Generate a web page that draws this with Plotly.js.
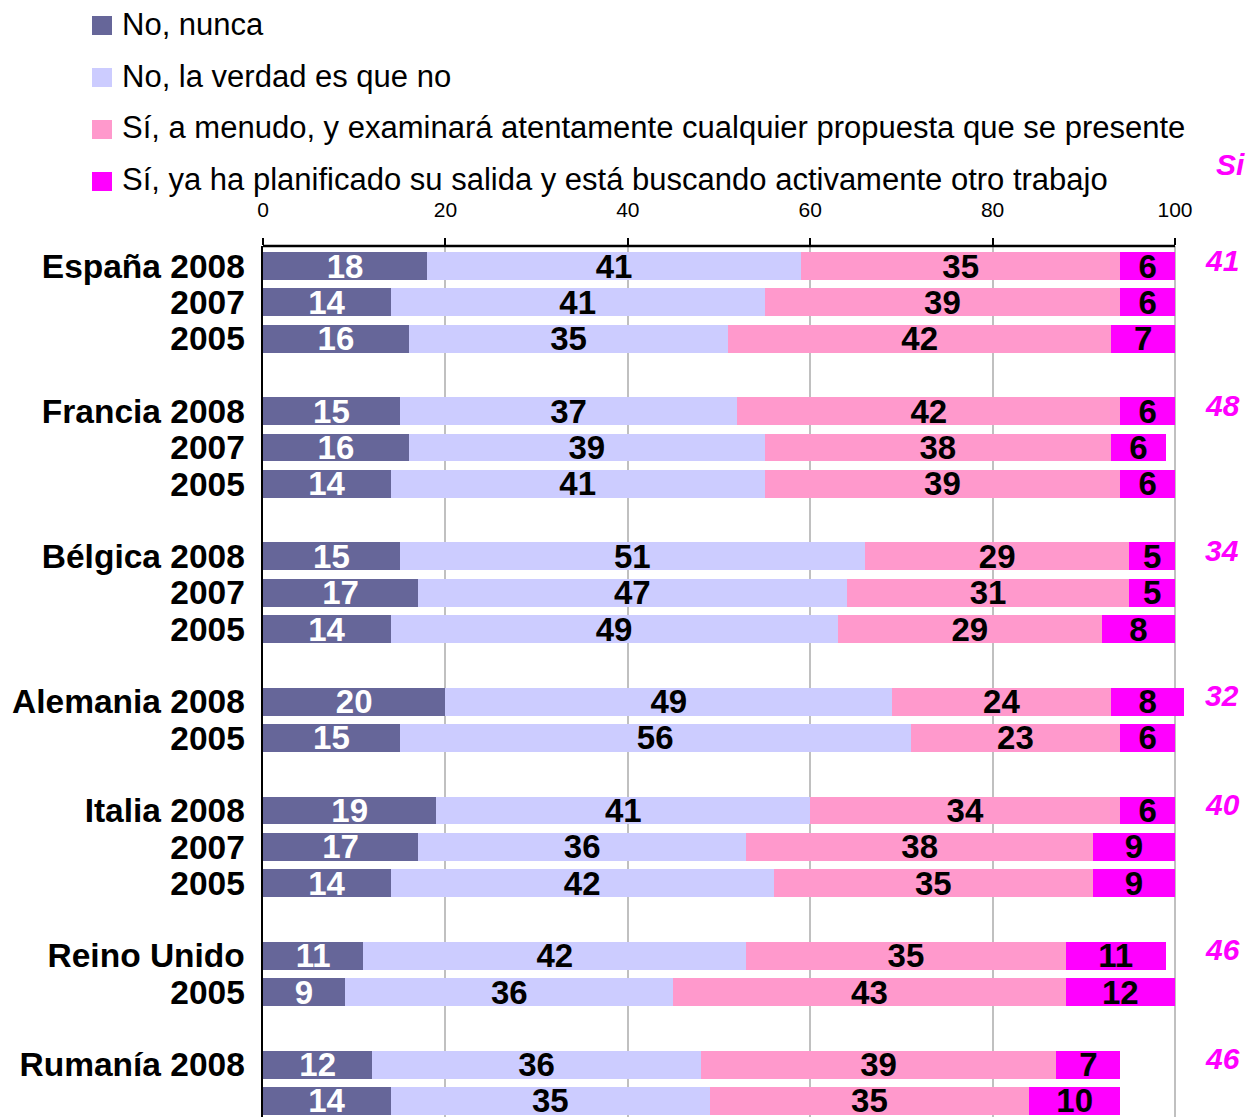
<!DOCTYPE html>
<html>
<head>
<meta charset="utf-8">
<script src="https://cdn.plot.ly/plotly-3.0.1.min.js"></script>
<style>html,body{margin:0;padding:0;background:#fff;overflow:hidden}</style>
</head>
<body>
<div id="chart" style="width:1249px;height:1117px"></div>
<script>
// ---- data ----
const countries = ["España", "Francia", "Bélgica", "Alemania", "Italia", "Reino Unido", "Rumanía"];
const rowLabels = [
  ["España 2008", "2007", "2005"],
  ["Francia 2008", "2007", "2005"],
  ["Bélgica 2008", "2007", "2005"],
  ["Alemania 2008", "2005"],
  ["Italia 2008", "2007", "2005"],
  ["Reino Unido", "2005"],
  ["Rumanía 2008", "2007"]
];
const seriesNames = ["No, nunca", "No, la verdad es que no", "Sí, a menudo, y examinará atentamente cualquier propuesta que se presente", "Sí, ya ha planificado su salida y está buscando activamente otro trabajo"];
const seriesColors = ["#666699", "#CCCCFF", "#FF99CC", "#FF00FF"];
const textColors = ["#FFFFFF", "#000000", "#000000", "#000000"];
const noNunca      = [18,14,16, 15,16,14, 15,17,14, 20,15, 19,17,14, 11,9, 12,14];
const noVerdad     = [41,41,35, 37,39,41, 51,47,49, 49,56, 41,36,42, 42,36, 36,35];
const siMenudo     = [35,39,42, 42,38,39, 29,31,29, 24,23, 34,38,35, 35,43, 39,35];
const siPlanificado= [ 6, 6, 7,  6, 6, 6,  5, 5, 8,  8, 6,  6, 9, 9, 11,12,  7,10];
const siTotals     = [41, 48, 34, 32, 40, 46, 46];
const siHeader = "Si";
const xTicks = [0, 20, 40, 60, 80, 100];

// ---- rows (one blank row between countries) ----
const rowPos = [], rowText = [], groupFirstRow = [];
let r = 0;
countries.forEach((c, gi) => {
  groupFirstRow.push(r);
  rowLabels[gi].forEach(lbl => {
    rowPos.push(r);
    rowText.push("<b>" + lbl + "</b>");
    r++;
  });
  r++;
});

// ---- geometry helpers (pixels -> paper) ----
const W = 1249, H = 1117;
const mL = 263, mT = 246, mB = 0;
const pxPerUnit = 9.12;
const plotW = 930;
const mR = W - mL - plotW;
const plotH = H - mT - mB;
const rowPx = 36.3, firstRowPx = 266;
const px2x = px => (px - mL) / plotW;
const px2y = py => (H - mB - py) / plotH;
const yTop = -(firstRowPx - mT) / rowPx;
const yBot = (H - mB - firstRowPx) / rowPx;
const FONT = "Liberation Sans, Arial, Helvetica, sans-serif";

const allSeries = [noNunca, noVerdad, siMenudo, siPlanificado];
const traces = allSeries.map((vals, i) => ({
  type: "bar",
  orientation: "h",
  name: seriesNames[i],
  x: vals,
  y: rowPos,
  text: vals.map(String),
  textposition: "inside",
  insidetextanchor: "middle",
  constraintext: "none",
  textangle: 0,
  textfont: {family: FONT, size: 33, color: textColors[i], weight: "bold"},
  marker: {color: seriesColors[i], line: {width: 0}},
  showlegend: false,
  hoverinfo: "skip"
}));

const shapes = [];
const annotations = [];
// manual legend
seriesNames.forEach((n, i) => {
  const top = 16 + i * 52;
  shapes.push({type: "rect", xref: "paper", yref: "paper",
    x0: px2x(92), x1: px2x(112), y0: px2y(top + 19), y1: px2y(top),
    fillcolor: seriesColors[i], line: {width: 0}});
  annotations.push({xref: "paper", yref: "paper", x: px2x(120), y: px2y(top + 8),
    xanchor: "left", yanchor: "middle", showarrow: false, text: n,
    font: {family: FONT, size: 31, color: "#000"}});
});
// axis frame lines
shapes.push({type: "line", xref: "x", yref: "paper", x0: 0, x1: 100, y0: 1, y1: 1,
  line: {color: "#000", width: 2.5}, layer: "above"});
shapes.push({type: "line", xref: "x", yref: "paper", x0: 100, x1: 100, y0: 0, y1: 1,
  line: {color: "#000", width: 2}, layer: "between"});
// Sí totals
annotations.push({xref: "paper", yref: "paper", x: px2x(1230), y: px2y(165),
  xanchor: "center", yanchor: "middle", showarrow: false, text: "<b><i>" + siHeader + "</i></b>",
  font: {family: FONT, size: 30, color: "#FF00FF"}});
siTotals.forEach((t, gi) => {
  annotations.push({xref: "paper", yref: "y", x: px2x(1222), y: groupFirstRow[gi],
    xanchor: "center", yanchor: "middle", yshift: 6, showarrow: false, text: "<b><i>" + t + "</i></b>",
    font: {family: FONT, size: 30, color: "#FF00FF"}});
});

const layout = {
  width: W, height: H,
  margin: {l: mL, r: mR, t: mT, b: mB, pad: 0},
  paper_bgcolor: "#fff", plot_bgcolor: "#fff",
  barmode: "stack",
  bargap: 0.23,
  font: {family: FONT, color: "#000"},
  xaxis: {
    side: "top", range: [0, plotW / pxPerUnit], tickvals: xTicks, ticktext: xTicks.map(String),
    showgrid: true, gridcolor: "#C0C0C0", gridwidth: 2,
    zeroline: false, showline: false,
    ticks: "outside", ticklen: 7, tickwidth: 2, tickcolor: "#000",
    ticklabelstandoff: 13,
    tickfont: {size: 21, color: "#000"}, fixedrange: true
  },
  yaxis: {
    range: [yBot, yTop], tickvals: rowPos, ticktext: rowText,
    showgrid: false, zeroline: false, showline: true, linecolor: "#000", linewidth: 2.5,
    ticks: "", ticklabelstandoff: 9,
    tickfont: {size: 33.5, color: "#000"}, fixedrange: true
  },
  shapes: shapes,
  annotations: annotations,
  showlegend: false
};

Plotly.newPlot("chart", traces, layout, {displayModeBar: false, staticPlot: true});
</script>
</body>
</html>
